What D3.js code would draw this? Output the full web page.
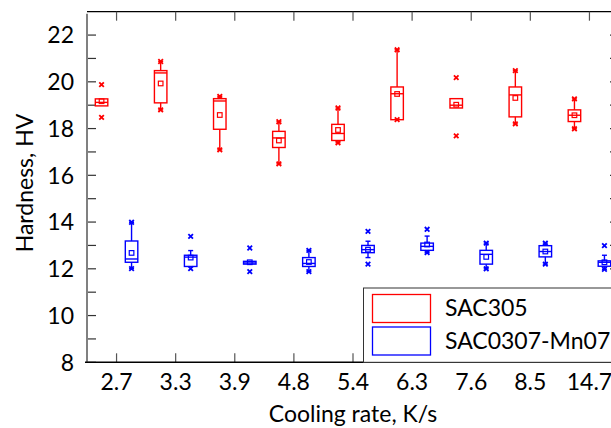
<!DOCTYPE html>
<html><head><meta charset="utf-8">
<script src="https://cdn.jsdelivr.net/npm/d3@7"></script>
<style>html,body{margin:0;padding:0;background:#fff;overflow:hidden}svg{display:block}text{font-family:Lato,"Open Sans",sans-serif;fill:#000}</style>
</head><body><svg id="c" width="611" height="428"></svg>
<script>
const categories = ["2.7","3.3","3.9","4.8","5.4","6.3","7.6","8.5","14.7"];
const seriesNames = ["SAC305","SAC0307-Mn07"];
const yTicks = [8,10,12,14,16,18,20,22];
// SAC305
const sac305Min   = [18.48,18.80,17.09,16.49,17.39,18.38,17.69,18.20,17.99];
const sac305WLow  = [18.97,18.80,17.09,16.49,17.39,18.38,18.88,18.20,17.99];
const sac305Q1    = [18.97,19.10,17.97,17.19,17.49,18.38,18.88,18.50,18.30];
const sac305Med   = [19.12,20.38,19.18,17.60,17.79,19.49,19.00,19.44,18.57];
const sac305Q3    = [19.27,20.48,19.28,17.88,18.18,19.78,19.28,19.78,18.80];
const sac305WHigh = [19.27,20.87,19.38,18.29,18.88,21.37,19.28,20.48,19.27];
const sac305Max   = [19.88,20.87,19.38,18.29,18.88,21.37,20.18,20.48,19.27];
const sac305Mean  = [19.17,19.93,18.58,17.49,17.94,19.48,19.02,19.31,18.57];
// SAC0307-Mn07
const mnMin   = [12.01,12.01,11.88,11.88,12.20,12.69,12.00,12.20,11.98];
const mnWLow  = [12.01,12.10,12.20,11.88,12.48,12.69,12.00,12.20,11.98];
const mnQ1    = [12.28,12.10,12.20,12.10,12.69,12.79,12.20,12.51,12.11];
const mnMed   = [12.42,12.50,12.25,12.23,12.82,12.96,12.62,12.74,12.28];
const mnQ3    = [13.19,12.58,12.32,12.48,13.00,13.10,12.79,12.99,12.34];
const mnWHigh = [13.99,12.78,12.32,12.79,13.18,13.40,13.10,13.10,12.58];
const mnMax   = [13.99,13.39,12.89,12.79,13.60,13.69,13.10,13.10,12.99];
const mnMean  = [12.68,12.48,12.28,12.29,12.82,13.04,12.51,12.74,12.28];

const svg = d3.select("#c");
const L = 87, R = 619, T = 11.7, B = 362.3;
const x = d3.scaleBand().domain(categories).range([L, R]).padding(0);
const y = d3.scaleLinear().domain([8, 23]).range([B, T]);
const cx = c => x(c) + x.bandwidth()/2;
const FS = 23;

function build(mn, wl, q1, md, q3, wh, mx, me){
  return categories.map((c,i)=>({c, min:mn[i], wl:wl[i], q1:q1[i], med:md[i], q3:q3[i], wh:wh[i], max:mx[i], mean:me[i]}));
}
const series = [
  {name: seriesNames[0], color:"#ff0000", off:-15, data: build(sac305Min,sac305WLow,sac305Q1,sac305Med,sac305Q3,sac305WHigh,sac305Max,sac305Mean)},
  {name: seriesNames[1], color:"#0000ff", off:15, data: build(mnMin,mnWLow,mnQ1,mnMed,mnQ3,mnWHigh,mnMax,mnMean)}
];

svg.append("line").attr("x1",L).attr("x2",R).attr("y1",T).attr("y2",T).attr("stroke","#000").attr("stroke-width",1.2);
svg.append("line").attr("x1",R).attr("x2",R).attr("y1",T).attr("y2",B).attr("stroke","#000").attr("stroke-width",1.2);

const allY = d3.range(8, 23, 1);
const tickLen = 9;
svg.append("g").selectAll("line").data(allY).join("line")
  .attr("x1",L).attr("x2",L+tickLen).attr("y1",d=>y(d)).attr("y2",d=>y(d)).attr("stroke","#333").attr("stroke-width",1.2);
svg.append("g").selectAll("line").data(allY).join("line")
  .attr("x1",R).attr("x2",R-tickLen).attr("y1",d=>y(d)).attr("y2",d=>y(d)).attr("stroke","#333").attr("stroke-width",1.2);
svg.append("g").selectAll("line").data(categories).join("line")
  .attr("x1",d=>cx(d)).attr("x2",d=>cx(d)).attr("y1",B).attr("y2",B-tickLen).attr("stroke","#555").attr("stroke-width",1.2);
svg.append("g").selectAll("line").data(categories).join("line")
  .attr("x1",d=>cx(d)).attr("x2",d=>cx(d)).attr("y1",T).attr("y2",T+tickLen).attr("stroke","#555").attr("stroke-width",1.2);

svg.append("g").selectAll("text").data(yTicks).join("text")
  .attr("x",74).attr("y",d=>y(d)).attr("dy","0.36em").attr("text-anchor","end").attr("font-size",FS).text(d=>d);
svg.append("g").selectAll("text").data(categories).join("text")
  .attr("x",d=>cx(d)).attr("y",390).attr("text-anchor","middle").attr("font-size",FS).text(d=>d);
svg.append("text").attr("x",(L+R)/2).attr("y",422).attr("text-anchor","middle").attr("font-size",FS).text("Cooling rate, K/s");
svg.append("text").attr("transform",`translate(33,${(T+B)/2 - 4}) rotate(-90)`).attr("text-anchor","middle").attr("font-size",FS).text("Hardness, HV");

const bw = 12.5;
series.forEach(s=>{
  const g = svg.append("g").attr("stroke",s.color).attr("fill","none").attr("stroke-width",1.4);
  s.data.forEach(d=>{
    const xc = cx(d.c) + s.off;
    if (d.wh > d.q3) {
      g.append("line").attr("x1",xc).attr("x2",xc).attr("y1",y(d.q3)).attr("y2",y(d.wh));
      g.append("line").attr("x1",xc-2.5).attr("x2",xc+2.5).attr("y1",y(d.wh)).attr("y2",y(d.wh));
    }
    if (d.wl < d.q1) {
      g.append("line").attr("x1",xc).attr("x2",xc).attr("y1",y(d.q1)).attr("y2",y(d.wl));
      g.append("line").attr("x1",xc-2.5).attr("x2",xc+2.5).attr("y1",y(d.wl)).attr("y2",y(d.wl));
    }
    g.append("rect").attr("x",xc-bw/2).attr("y",y(d.q3)).attr("width",bw).attr("height",Math.max(1,y(d.q1)-y(d.q3)));
    g.append("line").attr("x1",xc-bw/2).attr("x2",xc+bw/2).attr("y1",y(d.med)).attr("y2",y(d.med));
    g.append("rect").attr("x",xc-2.3).attr("y",y(d.mean)-2.3).attr("width",4.6).attr("height",4.6).attr("stroke-width",1.2);
    [d.min, d.max].forEach(v=>{
      const yy = y(v), k = 2.3;
      g.append("path").attr("d",`M${xc-k},${yy-k}L${xc+k},${yy+k}M${xc-k},${yy+k}L${xc+k},${yy-k}`).attr("stroke-width",1.8);
    });
  });
});

svg.append("line").attr("x1",L).attr("x2",L).attr("y1",T+2).attr("y2",B).attr("stroke","#808080").attr("stroke-width",2);
svg.append("line").attr("x1",L-2).attr("x2",R).attr("y1",B).attr("y2",B).attr("stroke","#000").attr("stroke-width",1.5);

const lg = svg.append("g");
lg.append("rect").attr("x",363.5).attr("y",288).attr("width",300).attr("height",B-288).attr("fill","#fff").attr("stroke","#333").attr("stroke-width",1);
series.forEach((s,i)=>{
  lg.append("rect").attr("x",372.5).attr("y",294.5+i*32.5).attr("width",58).attr("height",28).attr("fill","none").attr("stroke",s.color).attr("stroke-width",1.3);
  lg.append("text").attr("x",445).attr("y",316+i*33).attr("font-size",23).text(s.name);
});
</script></body></html>
